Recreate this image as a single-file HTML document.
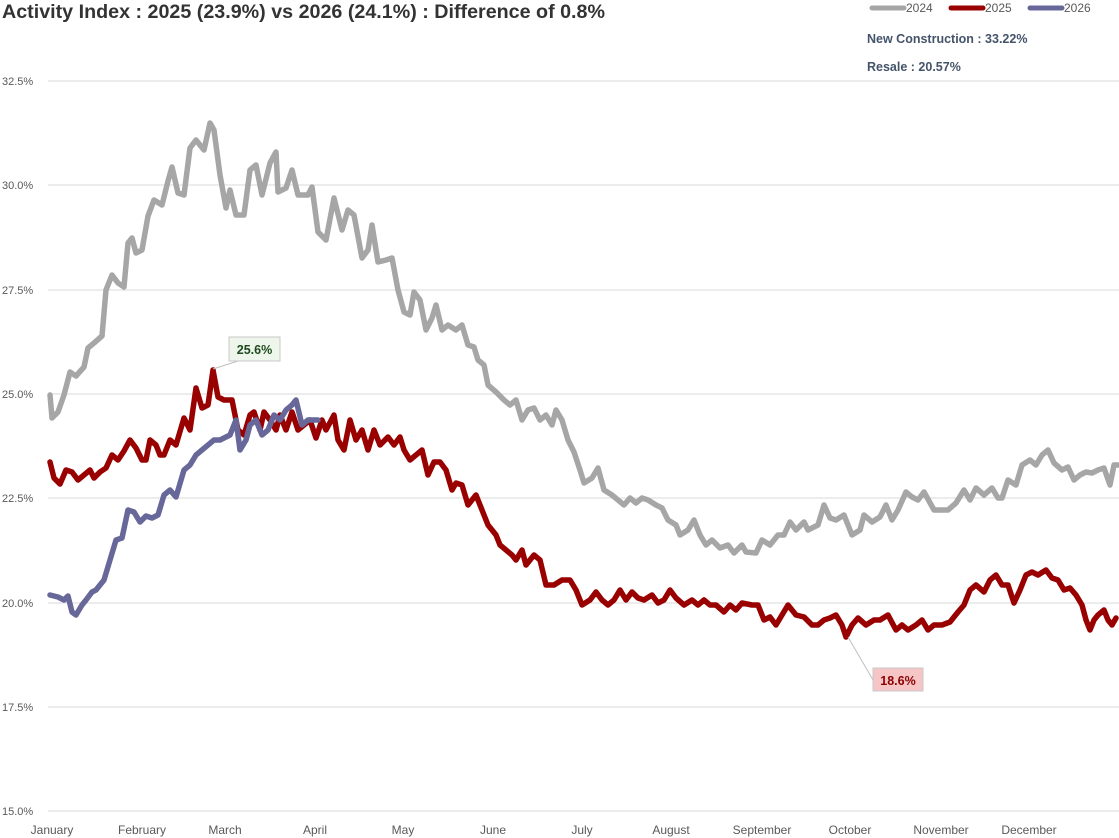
<!DOCTYPE html>
<html><head><meta charset="utf-8"><style>
body{margin:0;background:#fff;}
svg{display:block;font-family:"Liberation Sans",sans-serif;}
</style></head><body>
<svg width="1119" height="838" viewBox="0 0 1119 838">
<rect width="1119" height="838" fill="#fff"/>
<text x="2" y="18" font-size="19" font-weight="bold" fill="#333" textLength="603" lengthAdjust="spacingAndGlyphs">Activity Index : 2025 (23.9%) vs 2026 (24.1%) : Difference of 0.8%</text>
<g stroke-linecap="round" stroke-width="5">
<line x1="872" y1="8" x2="904" y2="8" stroke="#a6a6a6"/>
<line x1="951" y1="8" x2="983" y2="8" stroke="#990000"/>
<line x1="1030" y1="8" x2="1062" y2="8" stroke="#67679a"/>
</g>
<g font-size="12" fill="#595959">
<text x="906" y="12">2024</text><text x="985" y="12">2025</text><text x="1064" y="12">2026</text>
</g>
<text x="867" y="43" font-size="12.5" font-weight="bold" fill="#44546a">New Construction : 33.22%</text>
<text x="867" y="71" font-size="12.5" font-weight="bold" fill="#44546a">Resale : 20.57%</text>
<g stroke="#d9d9d9" stroke-width="1">
<line x1="48" y1="81" x2="1119" y2="81"/><line x1="48" y1="185" x2="1119" y2="185"/>
<line x1="48" y1="290" x2="1119" y2="290"/><line x1="48" y1="394" x2="1119" y2="394"/>
<line x1="48" y1="498" x2="1119" y2="498"/><line x1="48" y1="603" x2="1119" y2="603"/>
<line x1="48" y1="707" x2="1119" y2="707"/><line x1="48" y1="811" x2="1119" y2="811"/>
</g>
<g font-size="11" fill="#595959">
<text x="2" y="85">32.5%</text><text x="2" y="189">30.0%</text><text x="2" y="294">27.5%</text>
<text x="2" y="398">25.0%</text><text x="2" y="502">22.5%</text><text x="2" y="607">20.0%</text>
<text x="2" y="711">17.5%</text><text x="2" y="815">15.0%</text>
</g>
<g font-size="12" fill="#595959" text-anchor="middle">
<text x="52" y="834">January</text><text x="142" y="834">February</text><text x="225" y="834">March</text>
<text x="315" y="834">April</text><text x="403" y="834">May</text><text x="493" y="834">June</text>
<text x="582" y="834">July</text><text x="671" y="834">August</text><text x="762" y="834">September</text>
<text x="850" y="834">October</text><text x="941" y="834">November</text><text x="1029" y="834">December</text>
</g>
<g fill="none" stroke-width="5.5" stroke-linejoin="round" stroke-linecap="round">
<polyline stroke="#a6a6a6" points="50,395 52,418 58,412 64,395 70,372 76,376 84,367 88,348 94,343 102,336 106,290 112,275 118,283 124,287 128,243 132,238 136,253 142,250 148,216 154,200 162,205 168,181 172,167 178,193 184,195 190,148 196,140 204,150 210,123 214,130 220,175 226,208 230,190 236,215 244,215 250,170 256,165 262,195 270,163 276,152 278,192 286,188 292,170 298,195 308,195 312,187 318,232 326,240 334,198 342,230 348,210 354,215 362,258 368,250 372,225 378,262 386,260 392,258 398,290 404,312 410,315 414,292 420,300 426,330 432,318 436,305 442,330 448,325 456,330 462,325 468,345 474,347 478,360 484,365 488,385 496,392 504,400 510,405 516,400 522,420 528,410 534,408 540,420 546,415 552,425 556,410 562,420 568,440 574,452 580,470 584,483 592,478 598,468 604,490 612,495 618,500 624,505 630,498 636,503 642,498 648,500 656,505 662,508 668,520 676,525 680,535 688,530 694,520 700,535 706,545 712,540 720,548 728,545 734,553 742,545 746,552 756,553 762,540 770,545 778,535 784,535 790,522 796,530 804,522 808,530 818,525 824,505 830,518 836,520 844,515 852,535 860,530 864,515 872,522 880,517 886,505 892,520 898,510 906,492 912,497 918,500 924,492 934,510 940,510 948,510 956,503 964,490 970,500 976,488 984,495 992,488 998,498 1002,498 1008,480 1016,485 1022,465 1030,460 1036,465 1042,455 1048,450 1054,463 1062,470 1068,467 1074,480 1080,475 1086,472 1092,473 1098,470 1104,468 1110,485 1114,465 1118,465"/>
<polyline stroke="#990000" points="50,462 54,478 60,484 66,470 72,472 78,480 84,475 90,470 94,478 100,472 106,468 112,455 118,460 124,451 130,440 136,448 142,460 146,460 150,440 156,445 160,455 164,455 170,440 176,445 184,418 190,430 196,388 202,408 208,405 213,370 218,397 224,400 232,400 238,430 244,435 250,415 254,412 260,430 264,412 270,420 276,430 280,415 286,430 292,412 298,430 304,425 310,420 316,438 322,420 326,430 334,415 338,440 344,450 350,420 356,440 362,430 368,450 374,430 380,445 388,437 394,445 400,437 404,450 410,460 416,455 422,450 428,475 434,462 440,462 446,470 452,490 456,483 462,485 468,505 476,495 482,510 488,525 496,535 500,545 506,550 512,555 516,560 522,550 526,565 534,555 540,560 546,585 554,585 562,580 570,580 576,590 582,605 590,600 596,592 602,600 608,605 614,600 620,590 626,600 632,592 638,598 644,600 652,595 658,603 664,600 670,590 676,598 684,605 692,600 698,605 704,600 710,605 716,605 724,612 730,605 736,610 742,603 752,605 758,605 764,620 770,617 776,625 782,615 788,605 796,615 804,617 812,625 818,625 824,620 830,618 836,615 842,625 846,637 852,625 858,618 866,625 874,620 880,620 888,615 896,630 902,625 908,630 916,625 922,620 928,630 934,625 942,625 950,622 958,612 964,605 970,590 976,585 984,592 990,580 996,575 1002,585 1008,585 1014,603 1020,590 1026,575 1032,572 1038,575 1046,570 1052,578 1058,580 1064,590 1070,588 1076,595 1082,605 1086,620 1090,630 1094,620 1098,615 1104,610 1108,620 1112,625 1116,618"/>
<polyline stroke="#67679a" points="50,595 58,597 64,600 68,596 72,612 76,615 82,605 86,600 92,592 96,590 104,580 110,560 116,540 122,538 128,510 134,512 140,522 146,516 152,518 158,515 164,495 170,490 176,497 184,470 190,465 196,455 202,450 208,445 214,440 220,440 226,437 230,435 236,420 240,450 246,440 250,425 256,420 262,435 268,430 274,415 280,420 286,410 292,405 296,400 302,425 308,420 312,420 318,420"/>
</g>
<line x1="213" y1="369" x2="238" y2="361" stroke="#bfbfbf" stroke-width="1"/>
<rect x="229" y="337" width="51" height="24" fill="#eef5ea" stroke="#c8c8c8"/>
<text x="254.5" y="354" font-size="12.5" font-weight="bold" fill="#1e4a1e" text-anchor="middle">25.6%</text>
<line x1="848" y1="637" x2="873" y2="680" stroke="#bfbfbf" stroke-width="1"/>
<rect x="873" y="668" width="50" height="23" fill="#f6c6c6" stroke="#c8c8c8"/>
<text x="898" y="685" font-size="12.5" font-weight="bold" fill="#8b0000" text-anchor="middle">18.6%</text>
</svg>
</body></html>
